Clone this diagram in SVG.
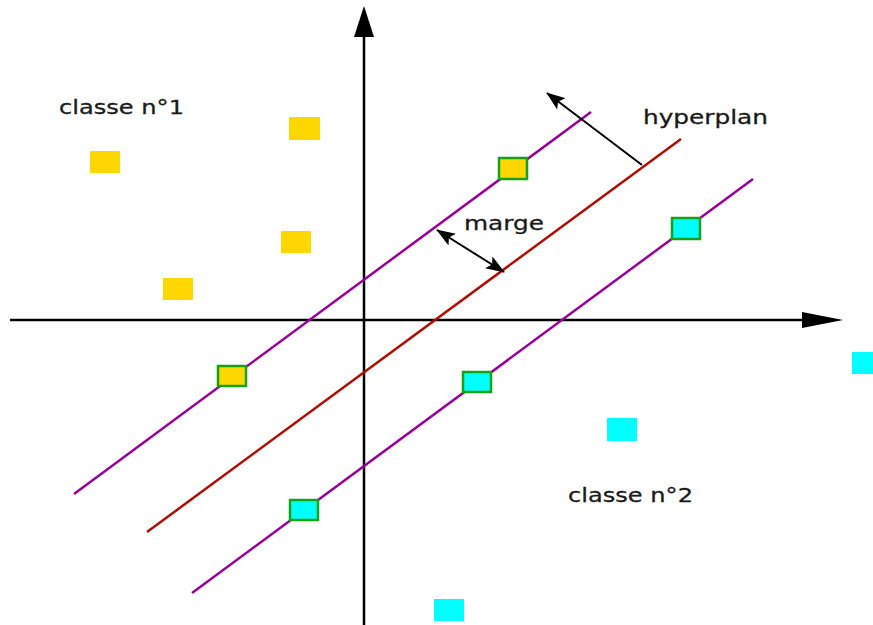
<svg xmlns="http://www.w3.org/2000/svg" width="873" height="625" viewBox="0 0 873 625">
<style>
.bg{fill:#fff}
.axis{stroke:#000;stroke-width:2.5;fill:none}
.head{fill:#000}
.margin{stroke:#990099;stroke-width:2.5;fill:none}
.hyper{stroke:#b00e00;stroke-width:2.5;fill:none}
.arrow{stroke:#000;stroke-width:2;fill:none}
.c1{fill:#ffd700}
.c2{fill:#00ffff}
.sv{stroke:#13a313;stroke-width:2.5}
.lbl{font-family:"DejaVu Sans",Verdana,sans-serif;font-size:20px;fill:#1a1a1a;stroke:#1a1a1a;stroke-width:0.3}
</style>
<defs>
<marker id="ah" markerUnits="userSpaceOnUse" markerWidth="20" markerHeight="14" refX="18" refY="7" orient="auto-start-reverse" viewBox="0 0 20 14">
<path d="M0,0 L19,7 L0,14 L4,7 z" fill="#000"/>
</marker>
</defs>
<rect class="bg" x="0" y="0" width="873" height="625"/>
<g id="connectors">
<line class="axis" x1="10" y1="320" x2="806" y2="320" stroke-width="2"/>
<polygon class="head" points="802,312 843,320 802,328"/>
<line class="axis" x1="364" y1="30" x2="364" y2="625" stroke-width="3"/>
<polygon class="head" points="364,6 374,37 354,37"/>
<line class="margin" x1="74" y1="494" x2="591" y2="112"/>
<line class="hyper" x1="147" y1="532" x2="681" y2="139"/>
<line class="margin" x1="192" y1="593" x2="753" y2="179"/>
<line class="arrow" x1="642" y1="165" x2="547" y2="93" marker-end="url(#ah)"/>
<line class="arrow" x1="437" y1="230" x2="504" y2="272" marker-start="url(#ah)" marker-end="url(#ah)"/>
</g>
<g id="class1">
<rect id="y1" class="c1" x="90" y="151" width="30" height="22"/>
<rect id="y2" class="c1" x="289" y="117" width="31" height="23"/>
<rect id="y3" class="c1" x="281" y="231" width="30" height="22"/>
<rect id="y4" class="c1" x="163" y="278" width="30" height="22"/>
<rect id="sv1" class="c1 sv" x="499" y="158" width="28" height="21"/>
<rect id="sv2" class="c1 sv" x="218" y="366" width="28" height="20"/>
</g>
<g id="class2">
<rect id="c1" class="c2" x="607" y="418" width="30" height="23"/>
<rect id="c2" class="c2" x="852" y="352" width="30" height="22"/>
<rect id="c3" class="c2" x="434" y="599" width="30" height="22"/>
<rect id="sv3" class="c2 sv" x="672" y="218" width="28" height="21"/>
<rect id="sv4" class="c2 sv" x="463" y="372" width="28" height="20"/>
<rect id="sv5" class="c2 sv" x="290" y="500" width="28" height="20"/>
</g>
<g id="labels">
<text class="lbl" x="59" y="114" textLength="125" lengthAdjust="spacingAndGlyphs">classe n°1</text>
<text class="lbl" x="643" y="124" textLength="125" lengthAdjust="spacingAndGlyphs">hyperplan</text>
<text class="lbl" x="464" y="230" textLength="80" lengthAdjust="spacingAndGlyphs">marge</text>
<text class="lbl" x="568" y="502" textLength="125" lengthAdjust="spacingAndGlyphs">classe n°2</text>
</g>
</svg>
